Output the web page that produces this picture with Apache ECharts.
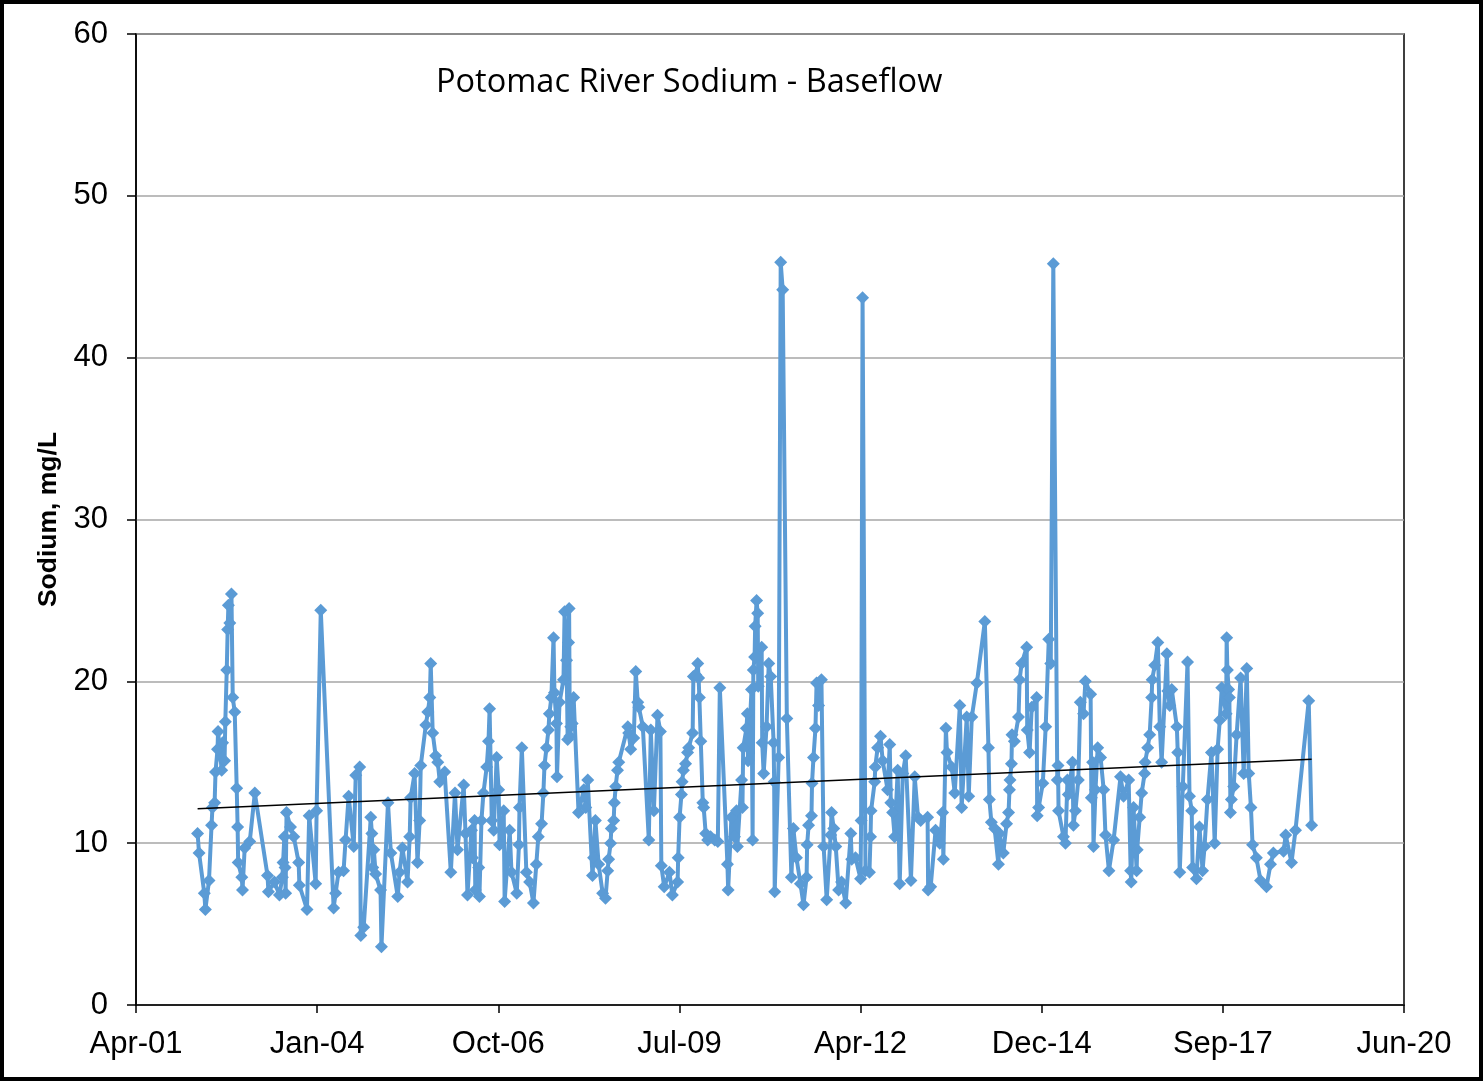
<!DOCTYPE html>
<html>
<head>
<meta charset="utf-8">
<script src="https://cdn.jsdelivr.net/npm/echarts@6/dist/echarts.min.js"></script>
<style>
  html, body { margin: 0; padding: 0; background: #fff; }
  #chart { width: 1483px; height: 1081px; }
</style>
</head>
<body>
<div id="chart"></div>
<script>
// Potomac River baseflow sodium samples (mg/L)
const sampleDates = [
  '2002-03-25','2002-04-02','2002-05-01','2002-05-07','2002-05-27','2002-06-10','2002-06-15','2002-06-27','2002-07-02','2002-07-13',
  '2002-07-16','2002-08-05','2002-08-10','2002-08-21','2002-08-25','2002-09-02','2002-09-07','2002-09-11','2002-09-19','2002-09-28',
  '2002-10-05','2002-10-16','2002-10-27','2002-11-01','2002-11-04','2002-11-24','2002-11-28','2002-12-10','2003-01-07','2003-02-04',
  '2003-04-15','2003-04-20','2003-05-23','2003-06-20','2003-07-06','2003-07-10','2003-07-17','2003-07-21','2003-07-24','2003-07-29',
  '2003-08-20','2003-09-07','2003-10-04','2003-10-08','2003-11-19','2003-12-01','2004-01-06','2004-01-11','2004-02-03','2004-04-14',
  '2004-04-25','2004-05-11','2004-06-08','2004-06-19','2004-07-06','2004-08-03','2004-08-14','2004-09-05','2004-09-11','2004-09-27',
  '2004-11-05','2004-11-11','2004-11-16','2004-11-22','2004-12-02','2004-12-29','2005-01-03','2005-02-08','2005-02-24','2005-04-03',
  '2005-04-13','2005-04-29','2005-05-27','2005-06-08','2005-06-13','2005-07-05','2005-07-21','2005-08-02','2005-08-08','2005-09-05',
  '2005-09-16','2005-09-27','2005-10-02','2005-10-13','2005-10-29','2005-11-10','2005-11-21','2005-12-18','2006-01-21','2006-02-13',
  '2006-02-27','2006-04-02','2006-04-12','2006-04-23','2006-05-15','2006-05-20','2006-06-01','2006-06-05','2006-06-24','2006-06-28',
  '2006-07-09','2006-07-20','2006-08-07','2006-08-17','2006-08-23','2006-09-04','2006-09-15','2006-10-01','2006-10-12','2006-10-17',
  '2006-11-09','2006-11-14','2006-12-12','2006-12-22','2007-01-20','2007-02-01','2007-02-04','2007-02-17','2007-03-14','2007-04-01',
  '2007-04-22','2007-05-08','2007-05-19','2007-06-06','2007-06-16','2007-06-22','2007-07-03','2007-07-14','2007-07-19','2007-07-30',
  '2007-08-11','2007-08-16','2007-08-27','2007-08-30','2007-09-13','2007-10-05','2007-10-11','2007-10-22','2007-10-28','2007-11-02',
  '2007-11-05','2007-11-09','2007-11-14','2007-11-22','2007-11-30','2007-12-27','2008-01-25','2008-02-05','2008-02-16','2008-03-13',
  '2008-03-19','2008-03-29','2008-04-16','2008-05-08','2008-05-24','2008-06-05','2008-06-10','2008-06-21','2008-06-25','2008-07-08',
  '2008-07-12','2008-07-19','2008-07-29','2008-08-05','2008-09-24','2008-09-29','2008-10-10','2008-10-27','2008-11-07','2008-11-18',
  '2008-11-24','2008-12-16','2009-01-18','2009-01-29','2009-02-15','2009-03-07','2009-03-23','2009-03-28','2009-04-13','2009-05-12',
  '2009-05-28','2009-06-26','2009-06-29','2009-07-07','2009-07-17','2009-07-21','2009-07-28','2009-08-09','2009-08-20','2009-08-26',
  '2009-09-17','2009-09-21','2009-10-04','2009-10-15','2009-10-20','2009-10-24','2009-11-01','2009-11-12','2009-11-17','2009-11-28',
  '2009-12-09','2009-12-25','2010-01-17','2010-02-03','2010-02-14','2010-03-28','2010-04-01','2010-04-19','2010-05-06','2010-05-17',
  '2010-05-22','2010-06-14','2010-06-19','2010-06-23','2010-07-11','2010-07-16','2010-07-20','2010-08-08','2010-08-14','2010-08-18',
  '2010-08-25','2010-08-28','2010-09-05','2010-09-11','2010-09-14','2010-10-03','2010-10-06','2010-10-14','2010-10-30','2010-11-11',
  '2010-11-22','2010-12-08','2010-12-11','2010-12-14','2011-01-05','2011-01-16','2011-01-27','2011-02-19','2011-03-16','2011-03-27',
  '2011-04-13','2011-05-05','2011-05-22','2011-06-08','2011-06-11','2011-06-19','2011-07-05','2011-07-08','2011-07-16','2011-07-27',
  '2011-08-02','2011-08-13','2011-08-29','2011-09-10','2011-09-27','2011-10-19','2011-10-24','2011-11-05','2011-11-16','2011-12-02',
  '2011-12-18','2012-01-10','2012-02-07','2012-02-12','2012-03-04','2012-04-01','2012-04-04','2012-04-12','2012-04-28','2012-05-20',
  '2012-05-26','2012-05-29','2012-06-18','2012-06-21','2012-07-04','2012-07-20','2012-08-01','2012-08-28','2012-09-09','2012-09-15',
  '2012-09-25','2012-10-06','2012-10-23','2012-11-03','2012-11-20','2012-12-06','2013-01-04','2013-01-25','2013-02-12','2013-02-27',
  '2013-04-06','2013-04-09','2013-04-23','2013-05-20','2013-06-12','2013-06-28','2013-07-02','2013-07-16','2013-07-22','2013-08-17',
  '2013-09-03','2013-10-01','2013-10-11','2013-11-08','2013-11-19','2013-12-06','2014-01-03','2014-02-16','2014-03-08','2014-03-13',
  '2014-03-24','2014-04-11','2014-05-02','2014-05-08','2014-05-29','2014-06-16','2014-06-27','2014-07-02','2014-07-05','2014-07-13',
  '2014-07-16','2014-07-29','2014-08-21','2014-08-27','2014-09-07','2014-10-05','2014-10-08','2014-10-21','2014-11-02','2014-11-29',
  '2014-12-02','2014-12-10','2015-01-02','2015-01-18','2015-02-04','2015-02-15','2015-03-01','2015-03-23','2015-03-27','2015-03-30',
  '2015-04-26','2015-05-07','2015-05-18','2015-05-23','2015-06-15','2015-06-20','2015-07-01','2015-07-17','2015-07-28','2015-08-15',
  '2015-08-25','2015-09-23','2015-09-27','2015-10-04','2015-10-09','2015-10-20','2015-11-01','2015-11-17','2015-12-04','2015-12-14',
  '2016-01-02','2016-01-28','2016-03-06','2016-03-23','2016-04-20','2016-05-01','2016-05-04','2016-05-17','2016-06-03','2016-06-06',
  '2016-06-20','2016-07-01','2016-07-17','2016-07-20','2016-08-03','2016-08-14','2016-08-25','2016-08-28','2016-09-11','2016-09-28',
  '2016-10-09','2016-10-19','2016-11-17','2016-11-22','2016-12-03','2016-12-14','2017-01-11','2017-01-16','2017-01-27','2017-02-13',
  '2017-03-11','2017-03-22','2017-04-03','2017-04-08','2017-04-29','2017-05-16','2017-06-02','2017-06-13','2017-06-29','2017-07-21',
  '2017-08-08','2017-08-24','2017-09-05','2017-09-16','2017-10-10','2017-10-13','2017-10-17','2017-10-24','2017-10-28','2017-11-03',
  '2017-11-08','2017-11-21','2017-12-07','2017-12-29','2018-01-15','2018-02-01','2018-02-12','2018-02-24','2018-03-05','2018-03-26',
  '2018-04-18','2018-05-21','2018-06-12','2018-06-28','2018-08-23','2018-09-04','2018-10-06','2018-10-28','2019-01-09','2019-01-25'
];

const sodium = [
  10.6, 9.4, 6.9, 5.9, 7.7, 11.1, 12.2, 12.5, 14.4, 15.8,
  16.9, 14.5, 16.2, 15.1, 17.5, 20.7, 23.2, 24.7, 23.6, 25.4,
  19.0, 18.1, 13.4, 11.0, 8.8, 7.9, 7.1, 9.7, 10.1, 13.1,
  8.0, 7.0, 7.6, 6.8, 7.9, 8.8, 10.4, 8.5, 6.9, 11.9,
  11.0, 10.4, 8.8, 7.4, 5.9, 11.7, 7.5, 12.0, 24.4, 6.0,
  6.9, 8.2, 8.3, 10.2, 12.9, 9.8, 14.2, 14.7, 4.3, 4.8,
  11.6, 10.6, 8.5, 9.6, 8.1, 7.1, 3.6, 12.5, 9.4, 6.7,
  8.2, 9.7, 7.6, 10.4, 12.8, 14.3, 8.8, 11.4, 14.8, 17.3,
  18.1, 19.0, 21.1, 16.8, 15.4, 15.0, 13.8, 14.4, 8.2, 13.1,
  9.6, 13.6, 10.6, 6.8, 10.8, 9.1, 11.4, 7.1, 8.5, 6.7,
  11.4, 13.1, 14.7, 16.3, 18.3, 11.4, 10.8, 15.3, 13.3, 9.9,
  12.0, 6.4, 10.8, 8.2, 6.9, 9.9, 12.2, 15.9, 8.2, 7.6,
  6.3, 8.7, 10.4, 11.2, 13.1, 14.8, 15.9, 17.0, 18.0, 19.0,
  22.7, 19.3, 17.4, 14.1, 18.7, 20.1, 24.3, 21.3, 16.4, 22.4,
  24.5, 16.6, 17.2, 17.4, 19.0, 11.9, 13.3, 12.2, 13.9, 8.0,
  9.1, 11.4, 8.7, 6.9, 6.6, 8.3, 9.0, 10.0, 10.9, 11.4,
  12.5, 13.5, 14.5, 15.0, 17.2, 16.8, 15.8, 16.5, 20.6, 18.7,
  18.4, 17.2, 10.2, 17.0, 12.0, 17.9, 16.9, 8.6, 7.3, 8.2,
  6.8, 7.6, 9.1, 11.6, 13.0, 13.8, 14.5, 14.9, 15.6, 15.9,
  16.8, 20.3, 20.4, 21.1, 20.2, 19.0, 16.3, 12.5, 12.2, 10.6,
  10.2, 10.4, 10.2, 10.1, 19.6, 8.7, 7.1, 11.6, 10.4, 12.0,
  9.8, 13.9, 12.2, 15.9, 17.1, 18.0, 15.1, 19.5, 10.2, 20.7,
  21.5, 23.4, 25.0, 24.2, 19.7, 22.1, 16.2, 14.3, 17.2, 21.1,
  20.3, 16.2, 13.8, 7.0, 15.3, 45.9, 44.2, 17.7, 7.9, 10.9,
  9.1, 7.5, 6.2, 7.9, 9.9, 11.1, 11.7, 13.7, 15.3, 17.1,
  19.9, 18.5, 20.1, 9.8, 6.5, 10.5, 11.9, 10.9, 9.8, 7.1,
  7.6, 6.3, 10.6, 9.0, 9.1, 7.8, 11.4, 43.7, 8.3, 8.2,
  10.4, 12.0, 13.8, 14.7, 15.9, 16.6, 15.1, 13.3, 16.1, 12.5,
  11.9, 10.4, 14.5, 7.5, 14.3, 15.4, 7.7, 14.1, 11.6, 11.4,
  11.6, 7.1, 7.3, 10.8, 10.0, 11.9, 9.0, 17.1, 15.6, 14.7,
  13.1, 18.5, 12.2, 17.8, 12.9, 17.8, 19.9, 23.7, 15.9, 12.7,
  11.3, 10.9, 8.7, 10.6, 9.4, 11.2, 11.9, 13.3, 13.9, 14.9,
  16.7, 16.3, 17.8, 20.1, 21.1, 22.1, 17.0, 15.6, 18.4, 19.0,
  11.7, 12.2, 13.7, 17.2, 22.6, 21.1, 45.8, 13.9, 14.8, 12.0,
  10.4, 10.0, 13.9, 13.0, 15.0, 11.1, 12.0, 13.9, 18.7, 18.0,
  20.0, 19.2, 12.8, 15.0, 9.8, 13.3, 15.9, 15.3, 13.3, 10.5,
  8.3, 10.2, 14.1, 12.9, 13.9, 8.3, 7.6, 12.2, 8.3, 9.6,
  11.6, 13.1, 14.3, 15.0, 15.9, 16.7, 19.0, 20.1, 21.0, 22.4,
  17.2, 15.0, 21.7, 19.4, 18.5, 19.5, 17.2, 15.6, 8.2, 13.5,
  21.2, 12.9, 12.0, 8.5, 7.8, 11.0, 8.3, 9.8, 12.7, 15.6,
  10.0, 15.8, 17.6, 19.6, 18.0, 22.7, 20.7, 19.5, 19.0, 11.9,
  12.7, 13.5, 16.7, 20.2, 14.3, 20.8, 14.3, 12.2, 9.9, 9.1,
  7.7, 7.3, 8.7, 9.4, 9.5, 10.5, 8.8, 10.8, 18.8, 11.1
];

// Axis: spreadsheet day numbers, ticks every 1000 days
const xMin = 37000, xMax = 44000, xStep = 1000;
const xTickLabels = ['Apr-01', 'Jan-04', 'Oct-06', 'Jul-09', 'Apr-12', 'Dec-14', 'Sep-17', 'Jun-20'];
const yMin = 0, yMax = 60, yStep = 10;

function toSerial(s) {
  const [y, m, d] = s.split('-').map(Number);
  return Date.UTC(y, m - 1, d) / 86400000 + 25569;
}

const points = sampleDates.map((d, i) => [toSerial(d), sodium[i]]);

// least-squares linear trend
const n = points.length;
let sx = 0, sy = 0, sxx = 0, sxy = 0;
points.forEach(([x, y]) => { sx += x; sy += y; sxx += x * x; sxy += x * y; });
const slope = (n * sxy - sx * sy) / (n * sxx - sx * sx);
const icpt = (sy - slope * sx) / n;
const x0 = points[0][0], x1 = points[n - 1][0];
const trend = [[x0, icpt + slope * x0], [x1, icpt + slope * x1]];

const FONT = '"Liberation Sans", Arial, sans-serif';
const chart = echarts.init(document.getElementById('chart'), null, { renderer: 'canvas' });
chart.setOption({
  animation: false,
  backgroundColor: '#ffffff',
  title: {
    text: 'Potomac River Sodium - Baseflow',
    left: 431, top: 61,
    textStyle: { fontFamily: '"Open Sans", sans-serif', fontSize: 32.5, fontWeight: 'normal', color: '#000' }
  },
  grid: {
    left: 136, top: 34, right: 79, bottom: 76,
    show: true, borderColor: '#000', borderWidth: 1.5, backgroundColor: 'transparent'
  },
  xAxis: {
    type: 'value', min: xMin, max: xMax, interval: xStep,
    axisLine: { lineStyle: { color: '#000', width: 1.5 } },
    axisTick: { show: true, inside: false, length: 8, lineStyle: { color: '#000', width: 1.5 } },
    splitLine: { show: false },
    axisLabel: {
      margin: 24, color: '#000', fontFamily: FONT, fontSize: 31,
      formatter: v => xTickLabels[Math.round((v - xMin) / xStep)] || ''
    }
  },
  yAxis: {
    type: 'value', min: yMin, max: yMax, interval: yStep,
    name: 'Sodium, mg/L', nameLocation: 'middle', nameRotate: 90, nameGap: 72,
    nameTextStyle: { fontFamily: FONT, fontSize: 26.5, fontWeight: 'bold', color: '#000' },
    axisLine: { show: true, lineStyle: { color: '#000', width: 1.5 } },
    axisTick: { show: true, inside: false, length: 9, lineStyle: { color: '#000', width: 1.5 } },
    splitLine: { show: true, lineStyle: { color: '#a6a6a6', width: 1.5 } },
    axisLabel: { margin: 28, color: '#000', fontFamily: FONT, fontSize: 31 }
  },
  series: [
    {
      type: 'line', data: points,
      symbol: 'diamond', symbolSize: 13, showAllSymbol: true,
      lineStyle: { color: '#5b9bd5', width: 4 },
      itemStyle: { color: '#5b9bd5' },
      z: 2
    },
    {
      type: 'line', data: trend,
      symbol: 'none',
      lineStyle: { color: '#000', width: 1.5 },
      z: 3
    }
  ],
  graphic: [{
    type: 'rect', silent: true,
    shape: { x: 2, y: 2, width: 1479, height: 1077 },
    style: { fill: 'none', stroke: '#000', lineWidth: 4 },
    z: 100
  }]
});
</script>
</body>
</html>
